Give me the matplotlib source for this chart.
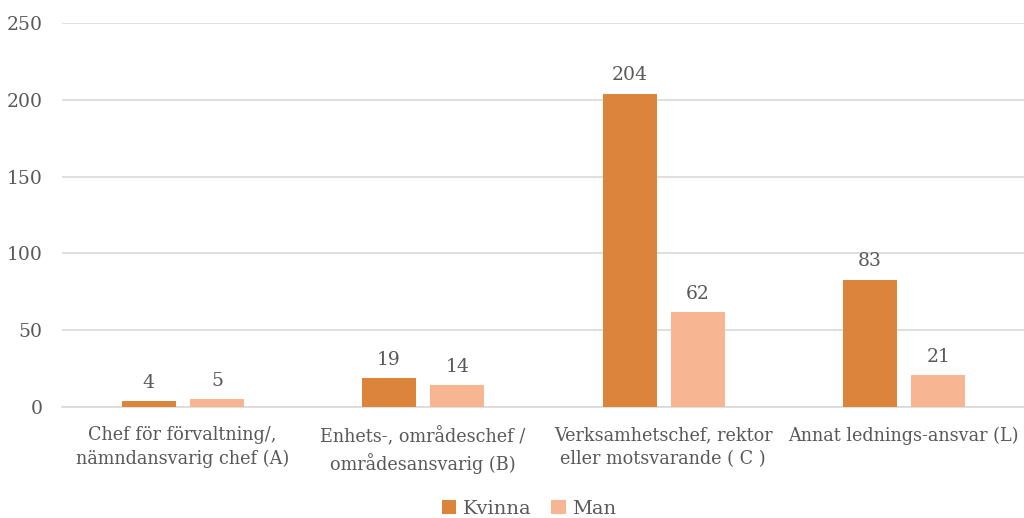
import matplotlib
matplotlib.use("Agg")
import matplotlib.pyplot as plt
import numpy as np

categories = ["Chef för förvaltning/,\nnämndansvarig chef (A)",
              "Enhets-, områdeschef /\nområdesansvarig (B)",
              "Verksamhetschef, rektor\neller motsvarande ( C )",
              "Annat lednings-ansvar (L)"]
kvinna = [4, 19, 204, 83]
man = [5, 14, 62, 21]
series_names = ["Kvinna", "Man"]
yticks = [0, 50, 100, 150, 200, 250]

plt.rcParams['font.family'] = ['DejaVu Serif']
txt = '#595959'

fig = plt.figure(figsize=(10.24, 5.18), dpi=100)
ax = fig.add_axes([62/1024, 1-407/518, 1-62/1024, (407-23)/518])

x = np.arange(len(categories))
w = 0.224
c1, c2 = '#DD843C', '#F8B591'
b1 = ax.bar(x - 0.140, kvinna, w, color=c1, label=series_names[0], zorder=3)
b2 = ax.bar(x + 0.144, man, w, color=c2, label=series_names[1], zorder=3)
for bars, vals in ((b1, kvinna), (b2, man)):
    for r, v in zip(bars, vals):
        ax.text(r.get_x() + r.get_width()/2, v + 6, str(v), ha='center', va='bottom',
                fontsize=13.5, color=txt)

ax.set_xlim(-0.5, 3.5)
ax.set_ylim(0, 250)
ax.set_yticks(yticks)
ax.set_yticklabels([str(t) for t in yticks], fontsize=13.5, color=txt)
ax.set_xticks(x)
ax.set_xticklabels(categories, fontsize=12.7, color=txt, linespacing=1.4)
ax.tick_params(axis='both', length=0)
ax.tick_params(axis='y', pad=14)
ax.tick_params(axis='x', pad=14)
ax.grid(axis='y', color='#D9D9D9', linewidth=1.2, zorder=0)
for s in ['top', 'right', 'left']:
    ax.spines[s].set_visible(False)
ax.spines['bottom'].set_color('#D9D9D9')
ax.spines['bottom'].set_linewidth(1.2)

leg = fig.legend(handles=[b1, b2], labels=series_names, loc='center', bbox_to_anchor=(529/1024, 1-509/518),
                 ncol=2, frameon=False, fontsize=14, handlelength=0.75, handleheight=0.75,
                 columnspacing=1.0, handletextpad=0.35)
for t in leg.get_texts():
    t.set_color(txt)

fig.savefig("out.png", dpi=100)
